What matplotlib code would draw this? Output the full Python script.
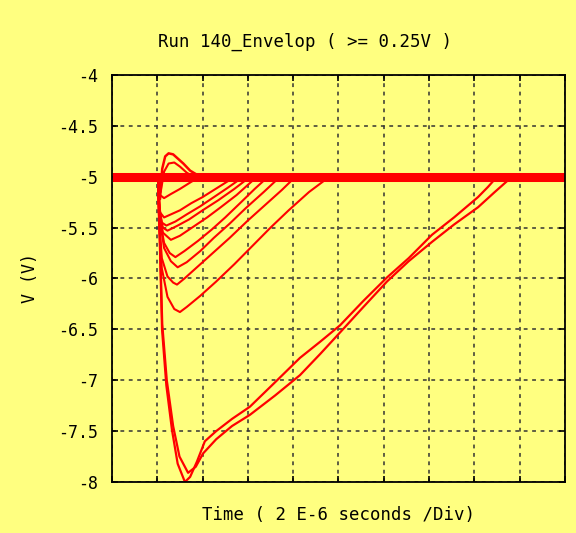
import numpy as np
import matplotlib.pyplot as plt
from matplotlib.ticker import FixedLocator, FuncFormatter

# time in microseconds (2 us per division), voltage in volts
BASE_T = [0.0, 20.0]
BASE_V = [-5.0, -5.0]

# positive overshoot pulses
OVER1_T = [2.03, 2.12, 2.22, 2.35, 2.5, 2.7, 2.9, 3.15, 3.45, 3.9, 4.3]
OVER1_V = [-5.0, -5.22, -4.92, -4.8, -4.77, -4.78, -4.82, -4.87, -4.94, -5.0, -5.0]
OVER2_T = [2.03, 2.15, 2.3, 2.5, 2.75, 3.0, 3.3, 3.6]
OVER2_V = [-5.0, -5.15, -4.95, -4.87, -4.86, -4.9, -4.96, -5.0]

# small and medium negative pulses
SMALL_T = [
    [2.03, 2.12, 2.3, 2.6, 3.0, 3.5, 3.9],
    [2.03, 2.12, 2.3, 2.6, 3.0, 3.5, 4.0, 4.5, 5.0, 5.43],
    [2.03, 2.1, 2.2, 2.4, 2.8, 3.3, 3.9, 4.5, 5.1, 5.8],
    [2.03, 2.1, 2.25, 2.45, 2.9, 3.4, 4.0, 4.7, 5.4, 6.1],
    [2.03, 2.1, 2.25, 2.6, 3.0, 3.6, 4.2, 4.8, 5.5, 6.0, 6.4],
    [2.03, 2.1, 2.3, 2.55, 2.8, 3.2, 3.8, 4.4, 5.0, 5.7, 6.3, 6.89],
    [2.03, 2.1, 2.3, 2.6, 2.9, 3.3, 3.9, 4.5, 5.2, 5.9, 6.7, 7.42],
    [2.03, 2.08, 2.2, 2.45, 2.7, 2.87, 3.2, 3.8, 4.5, 5.2, 6.0, 6.8, 7.5, 8.1],
    [2.03, 2.08, 2.2, 2.45, 2.75, 3.0, 3.3, 3.9, 4.6, 5.4, 6.2, 7.0, 7.8, 8.7, 9.6],
]
SMALL_V = [
    [-5.0, -5.18, -5.21, -5.17, -5.12, -5.05, -5.0],
    [-5.0, -5.35, -5.4, -5.37, -5.33, -5.26, -5.2, -5.13, -5.06, -5.0],
    [-5.0, -5.3, -5.45, -5.48, -5.44, -5.37, -5.29, -5.2, -5.11, -5.0],
    [-5.0, -5.35, -5.5, -5.53, -5.48, -5.42, -5.33, -5.23, -5.12, -5.0],
    [-5.0, -5.35, -5.55, -5.62, -5.58, -5.49, -5.4, -5.3, -5.18, -5.08, -5.0],
    [-5.0, -5.4, -5.65, -5.75, -5.79, -5.73, -5.63, -5.52, -5.4, -5.25, -5.12, -5.0],
    [-5.0, -5.4, -5.7, -5.83, -5.89, -5.84, -5.73, -5.6, -5.46, -5.31, -5.15, -5.0],
    [-5.0, -5.4, -5.8, -5.98, -6.04, -6.06, -6.0, -5.88, -5.74, -5.6, -5.43, -5.27, -5.13, -5.0],
    [-5.0, -5.45, -5.9, -6.18, -6.3, -6.33, -6.28, -6.17, -6.03, -5.86, -5.68, -5.5, -5.33, -5.15, -5.0],
]

# the two large pulses
DEEP1_T = [2.03, 2.12, 2.21, 2.4, 2.65, 2.9, 3.22, 3.45, 3.75, 4.1, 4.6, 5.3, 6.09, 7.2, 8.3,
           9.2, 10.07, 11.1, 12.14, 13.1, 14.13, 15.1, 16.16, 16.6, 17.0]
DEEP1_V = [-5.0, -5.72, -6.5, -7.05, -7.49, -7.82, -8.0, -7.95, -7.8, -7.6, -7.5, -7.38, -7.26,
           -7.02, -6.78, -6.62, -6.46, -6.22, -5.99, -5.8, -5.57, -5.4, -5.2, -5.1, -5.0]
DEEP2_T = [2.03, 2.12, 2.22, 2.42, 2.7, 2.98, 3.36, 3.7, 4.02, 4.6, 5.3, 6.09, 7.2, 8.3, 9.2,
           10.07, 11.1, 12.14, 13.1, 14.13, 15.1, 16.16, 16.9, 17.66]
DEEP2_V = [-5.0, -5.65, -6.45, -7.0, -7.45, -7.75, -7.91, -7.85, -7.72, -7.58, -7.45, -7.34,
           -7.15, -6.95, -6.74, -6.53, -6.28, -6.03, -5.83, -5.64, -5.47, -5.3, -5.15, -5.0]

Y_TICKS = [-4, -4.5, -5, -5.5, -6, -6.5, -7, -7.5, -8]
X_TICKS = list(range(0, 21, 2))

BG = "#ffff80"
RED = "#ff0000"
FONT = "DejaVu Sans Mono"


def main():
    fig = plt.figure(figsize=(5.76, 5.33), dpi=100, facecolor=BG)
    ax = fig.add_axes([0.1944, 0.0957, 0.7865, 0.7636], facecolor=BG)

    ax.plot(BASE_T, BASE_V, color=RED, lw=6.5, solid_capstyle="butt")
    ax.plot(OVER1_T, OVER1_V, color=RED, lw=1.8)
    ax.plot(OVER2_T, OVER2_V, color=RED, lw=1.5)
    for t, v in zip(SMALL_T, SMALL_V):
        ax.plot(t, v, color=RED, lw=1.5)
    ax.plot(DEEP1_T, DEEP1_V, color=RED, lw=1.6)
    ax.plot(DEEP2_T, DEEP2_V, color=RED, lw=1.6)

    ax.set_xlim(0, 20)
    ax.set_ylim(-8, -4)
    ax.xaxis.set_major_locator(FixedLocator(X_TICKS))
    ax.yaxis.set_major_locator(FixedLocator(Y_TICKS))
    ax.yaxis.set_major_formatter(FuncFormatter(lambda v, _: f"{v:g}"))
    ax.set_xticklabels([])
    ax.tick_params(direction="in", length=4, width=1.2, top=True, right=True,
                   labelsize=12, pad=10)
    for lbl in ax.get_yticklabels():
        lbl.set_fontfamily(FONT)

    ax.set_axisbelow(True)
    ax.grid(True, color="#333333", lw=1.1, linestyle=(0, (2.5, 3.0)))
    for s in ax.spines.values():
        s.set_linewidth(1.3)
        s.set_color("black")

    ax.set_ylabel("V (V)", fontfamily=FONT, fontsize=12, labelpad=14)
    ax.set_xlabel("Time ( 2 E-6 seconds /Div)", fontfamily=FONT, fontsize=12.5, labelpad=7)
    fig.text(305 / 576, 1 - 42 / 533, "Run 140_Envelop ( >= 0.25V )", fontfamily=FONT,
             fontsize=12.5, ha="center", va="center")

    fig.savefig("out.png", dpi=100, facecolor=BG)


if __name__ == "__main__":
    main()
